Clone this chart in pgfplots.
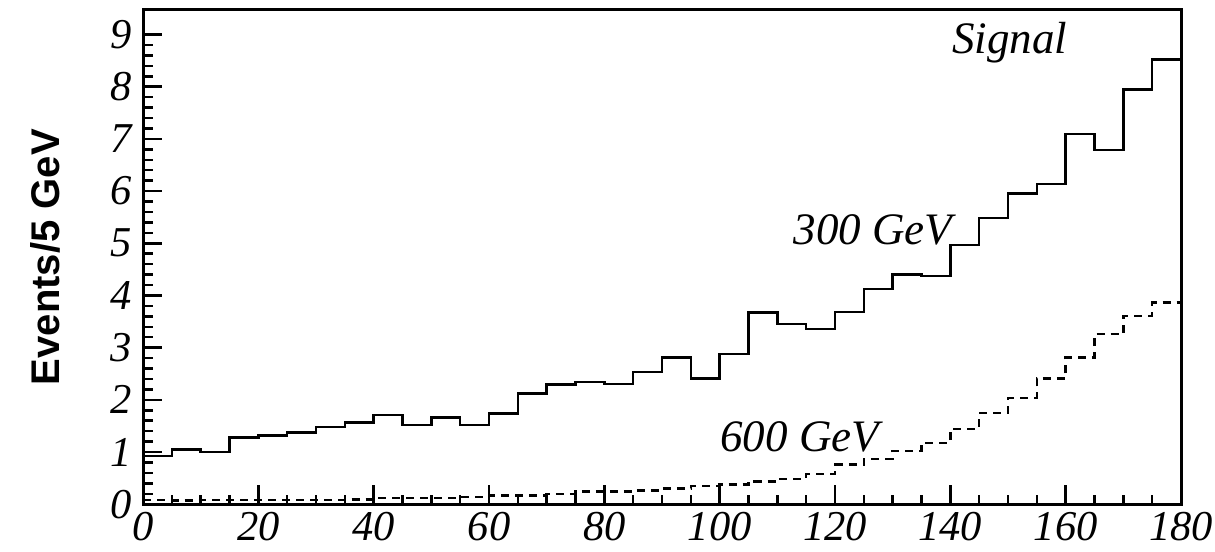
\documentclass[border=0pt]{standalone}
\usepackage{fontspec}
\setmainfont{Liberation Serif}
\newfontfamily\hel{Liberation Sans}
\usepackage{pgfplots}
\pgfplotsset{compat=1.18}
\usetikzlibrary{calc}

\begin{document}
\begin{tikzpicture}
  \begin{axis}[
      scale only axis,
      width=415pt, height=197.6pt,
      xmin=0, xmax=180, ymin=0, ymax=9.47,
      xtick={0,20,...,180}, ytick={0,1,...,9},
      minor x tick num=3, minor y tick num=4,
      xtick pos=left, ytick pos=left,
      tick align=inside,
      major tick length=7.6pt, minor tick length=3.8pt,
      axis line style={line width=1.2pt},
      every tick/.style={black, line width=1pt},
      /pgf/number format/assume math mode=true,
      tick label style={font=\fontsize{17}{17}\selectfont\itshape},
      xticklabel style={yshift=0.5pt},
      yticklabel style={xshift=-1pt},
      ylabel={\hel\bfseries Events/5 GeV},
      ylabel style={at={(axis description cs:-0.0945,0.5)}, anchor=center,
        font=\fontsize{16}{16}\selectfont},
      clip=false,
    ]
    % 300 GeV signal
    \addplot[const plot, black, line width=1pt] coordinates {
      (0,0.92) (5,1.05) (10,1.00) (15,1.28) (20,1.32) (25,1.37) (30,1.48) (35,1.57)
      (40,1.71) (45,1.52) (50,1.66) (55,1.52) (60,1.74) (65,2.12) (70,2.29) (75,2.34)
      (80,2.30) (85,2.53) (90,2.81) (95,2.41) (100,2.88) (105,3.67) (110,3.45) (115,3.36)
      (120,3.68) (125,4.12) (130,4.40) (135,4.37) (140,4.97) (145,5.48) (150,5.95)
      (155,6.14) (160,7.09) (165,6.79) (170,7.95) (175,8.52) (180,8.52)
    };
    % 600 GeV signal
    \addplot[const plot, black, line width=1pt, dash pattern=on 3.2pt off 2.4pt] coordinates {
      (0,0.08) (5,0.07) (10,0.08) (15,0.08) (20,0.08) (25,0.08) (30,0.08) (35,0.09)
      (40,0.12) (45,0.12) (50,0.12) (55,0.14) (60,0.17) (65,0.17) (70,0.20) (75,0.24)
      (80,0.24) (85,0.26) (90,0.30) (95,0.35) (100,0.38) (105,0.44) (110,0.48) (115,0.58)
      (120,0.76) (125,0.87) (130,1.02) (135,1.17) (140,1.44) (145,1.75) (150,2.04)
      (155,2.41) (160,2.81) (165,3.26) (170,3.61) (175,3.87) (180,3.87)
    };
    \node[font=\fontsize{18}{18}\selectfont\itshape] at (axis cs:150.3,8.84) {Signal};
    \node[font=\fontsize{18}{18}\selectfont\itshape] at (axis cs:126.6,5.26) {300 GeV};
    \node[font=\fontsize{18}{18}\selectfont\itshape] at (axis cs:113.9,1.30) {600 GeV};
  \end{axis}
  \pgfresetboundingbox
  \path ($(current axis.south west)+(-57.2pt,-19pt)$) rectangle ($(current axis.north east)+(13.6pt,4pt)$);
\end{tikzpicture}
\end{document}
